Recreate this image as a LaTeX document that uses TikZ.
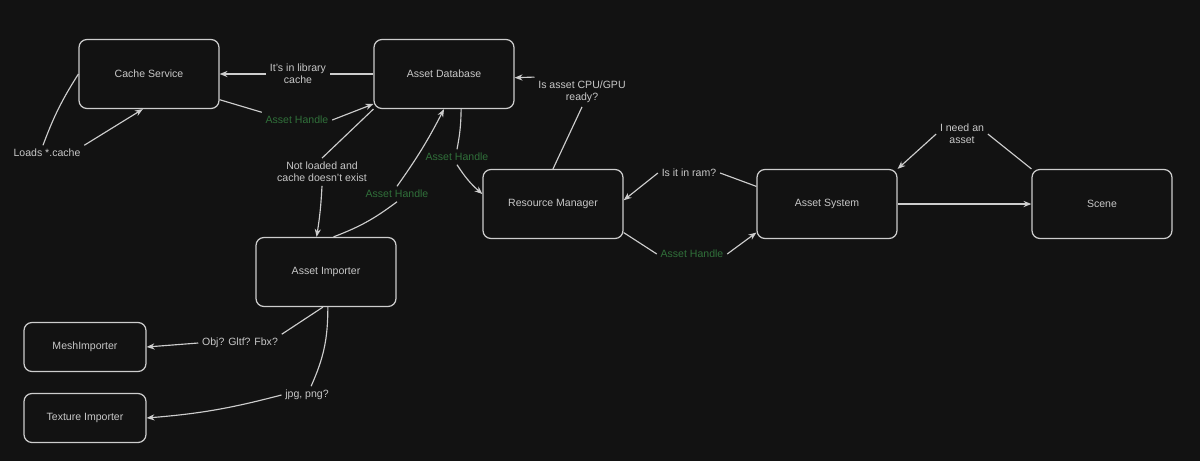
\documentclass[tikz,border=0pt]{standalone}
\usepackage{fontspec}
\setmainfont{Liberation Sans}
\usetikzlibrary{arrows.meta,calc}
\definecolor{bg}{RGB}{18,18,18}
\definecolor{edge}{RGB}{205,205,205}
\definecolor{txt}{RGB}{200,200,200}
\definecolor{hgreen}{RGB}{48,112,58}
\tikzset{
  box/.style={draw=edge, line width=0.7pt, rounded corners=4.5pt, minimum width=2.8cm, minimum height=1.38cm, inner sep=0pt, text=txt, font=\fontsize{6}{7}\selectfont},
  sbox/.style={box, minimum width=2.44cm, minimum height=0.98cm},
  lbl/.style={text=txt, font=\fontsize{6}{7}\selectfont, align=center, inner sep=2pt},
  glbl/.style={lbl, text=hgreen},
  conn/.style={draw=edge, line width=0.65pt},
  arr/.style={conn, -{Stealth[length=4.5pt,width=3.5pt]}}
}
\begin{document}
\begin{tikzpicture}[x=0.02cm, y=-0.02cm]
\fill[bg] (0,0) rectangle (1200,461);
\useasboundingbox (0,0) rectangle (1200,461);

% boxes
\node[box] (cache) at (149,74) {Cache Service};
\node[box] (db) at (444,74) {Asset Database};
\node[box] (rm) at (553,204) {Resource Manager};
\node[box] (as) at (827,204) {Asset System};
\node[box] (scene) at (1102,204) {Scene};
\node[box] (ai) at (326,272) {Asset Importer};
\node[sbox] (mesh) at (85,347) {MeshImporter};
\node[sbox] (tex) at (85,418) {Texture Importer};

% labels
\node[lbl] (lib) at (298,74) {It's in library\\cache};
\node[glbl] (ah1) at (297,120) {Asset Handle};
\node[lbl] (loads) at (47,153) {Loads *.cache};
\node[lbl] (notl) at (322,172) {Not loaded and\\cache doesn't exist};
\node[glbl] (ah2) at (397,194) {Asset Handle};
\node[glbl] (ah3) at (457,157) {Asset Handle};
\node[lbl] (cpu) at (582,92) {Is asset CPU/GPU\\ready?};
\node[lbl] (ram) at (689,173) {Is it in ram?};
\node[glbl] (ah4) at (692,254) {Asset Handle};
\node[lbl] (need) at (962,134) {I need an\\asset};
\node[lbl] (obj) at (240,343) {Obj? Gltf? Fbx?};
\node[lbl] (jpg) at (307,395) {jpg, png?};

% connectors
\draw[conn] (db.west) -- (lib.east);
\draw[arr] (lib.west) -- (cache.east);

\draw[conn] (cache.-20) -- (ah1.north west);
\draw[arr] (ah1.east) -- (db.203);

\draw[conn] (cache.west) to[bend right=6] ($(loads.north)+(-4,0)$);
\draw[arr] (loads.north east) -- (cache.-100);

\draw[conn] (db.south west) -- (notl.north);
\draw[arr] (notl.south) to[bend left=3] (ai.105);

\draw[conn] (ai.78) to[bend right=8] (ah2.south);
\draw[arr] (ah2.north) to[bend right=4] (db.south);

\draw[conn] (db.-64) to[bend left=5] (ah3.north);
\draw[arr] (ah3.south) to[bend right=8] (rm.172);

\draw[conn] (rm.north) -- (cpu.south);
\draw[arr] (cpu.north west) -- (db.-3);

\draw[conn] (as.166) -- (ram.east);
\draw[arr] (ram.west) -- (rm.3);

\draw[conn] (rm.-22) -- (ah4.west);
\draw[arr] (ah4.east) -- (as.202);

\draw[conn] (scene.north west) -- (need.east);
\draw[arr] (need.west) -- (as.north east);

\draw[arr] (as.east) -- (scene.west);

\draw[conn] (ai.-95) -- (obj.north east);
\draw[arr] (obj.west) -- (mesh.east);

\draw[conn] (ai.-87) to[bend left=12] (jpg.65);
\draw[arr] (jpg.west) to[bend left=5] (tex.east);
\end{tikzpicture}
\end{document}
